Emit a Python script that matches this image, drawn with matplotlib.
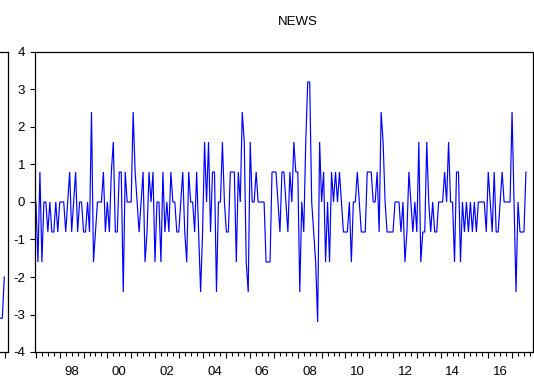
import numpy as np
import matplotlib
matplotlib.use("Agg")
import matplotlib.pyplot as plt
from matplotlib.ticker import FixedLocator, NullFormatter

plt.rcParams['font.family'] = ['Liberation Sans', 'DejaVu Sans']

# ---------------- data ----------------
start_year = 1997          # monthly series starting 1997M01
news = [
    0, -1.6, 0.8, -1.6, 0, 0, -0.8, 0, -0.8, -0.8,
    0, -0.8, 0, 0, 0, -0.8, 0, 0.8, -0.8, 0,
    0.8, -0.8, 0, 0, -0.8, -0.8, 0, -0.8, 2.4, -1.6,
    -0.8, 0, 0, 0, 0.8, -0.8, 0, -0.8, 0.8, 1.6,
    -0.8, -0.8, 0.8, 0.8, -2.4, 0.8, 0, 0, 0, 2.4,
    0.8, 0, -0.8, 0, 0.8, -1.6, -0.8, 0.8, 0, 0.8,
    -1.6, 0, 0, -1.6, 0.8, -0.8, 0, -0.8, 0.8, 0,
    0, -0.8, -0.8, 0, 0.8, -0.8, -1.6, 0.8, 0, 0,
    -0.8, 0.8, -0.8, -2.4, -0.8, 1.6, 0, 1.6, -0.8, 0.8,
    0.8, -2.4, 0, 0, 1.6, 0, -0.8, -0.8, 0.8, 0.8,
    0.8, -1.6, 0.8, 0, 2.4, 1.6, -1.6, -2.4, 1.6, 0,
    0, 0.8, 0, 0, 0, 0, -1.6, -1.6, -1.6, 0.8,
    0.8, 0.8, 0, -0.8, 0.8, 0.8, 0, -0.8, 0.8, 0,
    1.6, 0.8, 0.8, -2.4, 0, -0.8, 1.6, 3.2, 3.2, 0,
    -0.8, -1.6, -3.2, 1.6, 0, 0.8, -1.6, 0, -1.6, 0.8,
    0, 0.8, 0, 0.8, 0, -0.8, -0.8, -0.8, 0, -1.6,
    0, 0, 0.8, 0, -0.8, -0.8, -0.8, 0.8, 0.8, 0.8,
    0, 0, 0.8, -0.8, 2.4, 1.6, 0, -0.8, -0.8, -0.8,
    -0.8, 0, 0, 0, -0.8, 0, -1.6, -0.8, 0.8, 0,
    -0.8, 0, -0.8, 1.6, -1.6, -0.8, -0.8, 1.6, 0, -0.8,
    0, -0.8, -0.8, 0, 0, 0, 0.8, 0, 1.6, 0,
    0, -1.6, 0.8, 0.8, -1.6, 0, -0.8, 0, -0.8, 0,
    -0.8, 0, -0.8, 0, 0, 0, 0, -0.8, 0.8, 0,
    -0.8, 0.8, -0.8, -0.8, 0, 0.8, 0, 0, 0, 0,
    2.4, 0, -2.4, 0, -0.8, -0.8, -0.8, 0.8,
]
label_years = [1998, 2000, 2002, 2004, 2006, 2008, 2010, 2012, 2014, 2016]
year_labels = ['98', '00', '02', '04', '06', '08', '10', '12', '14', '16']
y_ticks = [-4, -3, -2, -1, 0, 1, 2, 3, 4]

# tail of the neighbouring (cut-off) panel on the left
left_months = [80, 81, 82]
left_values = [-3.1, -3.1, -2.0]

# ---------------- figure ----------------
W, H = 534, 378
fig = plt.figure(figsize=(W / 100, H / 100), dpi=100)
fig.patch.set_facecolor('white')

L, R, T, B = 35, 533, 52, 352   # axes box in pixels (from top-left)
ax = fig.add_axes([L / W, 1 - B / H, (R - L) / W, (B - T) / H])

t = start_year + np.arange(len(news)) / 12.0
ax.plot(t, news, color='#0000ff', lw=0.85, solid_joinstyle='miter')

ax.set_xlim(1996.96, 2017.88)
ax.set_ylim(-4, 4)

for s in ax.spines.values():
    s.set_linewidth(0.9)
    s.set_color('black')

years = np.arange(1997, 2018)
quarters = [y + q / 4 for y in years for q in (1, 2, 3) if y + q / 4 < 2017.88]
ax.xaxis.set_major_locator(FixedLocator(years))
ax.xaxis.set_minor_locator(FixedLocator(quarters))
ax.xaxis.set_major_formatter(NullFormatter())
ax.tick_params(axis='x', which='major', direction='out', length=4.5, width=0.8,
               bottom=True, top=False)
ax.tick_params(axis='x', which='minor', direction='out', length=2.6, width=0.8,
               bottom=True, top=False)

ax.set_yticks(y_ticks)
ax.set_yticklabels([str(v) for v in y_ticks])
ax.tick_params(axis='y', which='major', direction='out', length=3.6, width=0.8,
               pad=3.5, labelsize=9.5, left=True, right=False)

# year labels centred between year ticks (EViews style)
for yr, lab in zip(label_years, year_labels):
    ax.text(yr + 0.5, -(375 - B) / (B - T), lab, transform=ax.get_xaxis_transform(),
            ha='center', va='baseline', fontsize=9.5, color='black')

fig.text(298 / W, 1 - 25 / H, 'NEWS', ha='center', va='baseline', fontsize=9.5)

# neighbouring panel, only its right edge visible
ax0 = fig.add_axes([-0.3, 1 - B / H, 0.3 + 8.3 / W, (B - T) / H])
ax0.plot(left_months, left_values, color='#0000ff', lw=0.85)
ax0.set_xlim(-0.25, 84)
ax0.set_ylim(-4, 4)
for s in ax0.spines.values():
    s.set_linewidth(0.9)
ax0.set_yticks([])
ax0.set_xticks([82.4])
ax0.set_xticklabels([])
ax0.tick_params(axis='x', direction='out', length=4.5, width=0.8)

fig.savefig('out.png', dpi=100, facecolor='white')
